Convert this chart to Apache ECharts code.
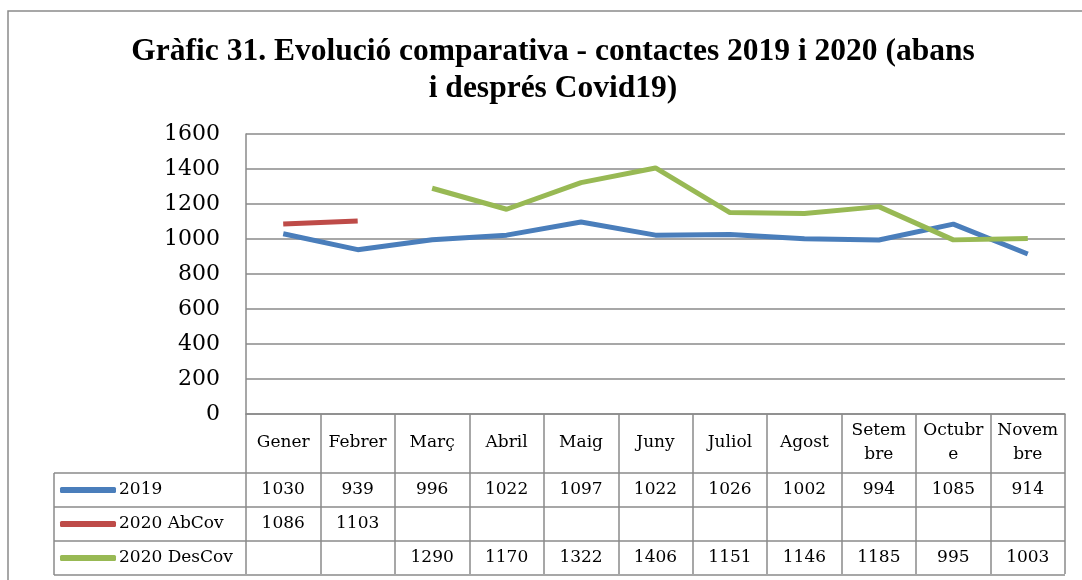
<!DOCTYPE html>
<html>
<head>
<meta charset="utf-8">
<script src="https://cdn.jsdelivr.net/npm/echarts@6/dist/echarts.min.js"></script>
<style>
html,body{margin:0;padding:0;background:#fff;}
#chart{width:1082px;height:580px;}
</style>
</head>
<body>
<div id="chart"></div>
<script>
// ---- data ----
const categories = ['Gener','Febrer','Març','Abril','Maig','Juny','Juliol','Agost','Setembre','Octubre','Novembre'];
const tickLabels = ['Gener','Febrer','Març','Abril','Maig','Juny','Juliol','Agost','Setem\nbre','Octubr\ne','Novem\nbre'];
const seriesNames = ['2019','2020 AbCov','2020 DesCov'];
const values2019 = [1030,939,996,1022,1097,1022,1026,1002,994,1085,914];
const values2020Ab = [1086,1103,null,null,null,null,null,null,null,null,null];
const values2020Des = [null,null,1290,1170,1322,1406,1151,1146,1185,995,1003];
const yTicks = [0,200,400,600,800,1000,1200,1400,1600];
const titleText = 'Gràfic 31. Evolució comparativa - contactes 2019 i 2020 (abans\ni després Covid19)';

const colors = ['#4A7EBB','#BE4B48','#98B954'];
const gridColor = '#8a8a8a';
const serif = "'DejaVu Serif', 'Liberation Serif', serif";

const chart = echarts.init(document.getElementById('chart'), null, {renderer:'canvas'});

const tableTop = 473, rowH = 34, tableLeft = 54, tableRight = 1065;

const option = {
  animation:false,
  backgroundColor:'#fff',
  title:{
    text:titleText,
    left:553,
    textAlign:'center',
    top:33,
    padding:0,
    textStyle:{fontFamily:"'Liberation Serif', serif",fontWeight:'bold',fontSize:31.5,lineHeight:37,color:'#000'}
  },
  legend:{
    orient:'vertical',
    left:60,
    top:tableTop,
    itemGap:0,
    itemWidth:56,
    itemHeight:6,
    icon:'roundRect',
    padding:0,
    data:seriesNames,
    textStyle:{fontFamily:serif,fontSize:17,color:'#000',lineHeight:rowH,padding:[0,0,0,-2]}
  },
  grid:{left:246,right:17,top:134,bottom:166,containLabel:false},
  xAxis:{
    type:'category',
    data:categories,
    boundaryGap:true,
    axisLine:{show:true,lineStyle:{color:gridColor,width:1.5}},
    axisTick:{show:true,interval:0,length:160,lineStyle:{color:gridColor,width:1.5}},
    axisLabel:{
      interval:0,
      margin:29,
      verticalAlign:'middle',
      lineHeight:24,
      fontFamily:serif,fontSize:17,color:'#000',
      formatter:function(v,i){return tickLabels[i];}
    },
    splitLine:{show:false}
  },
  yAxis:{
    type:'value',
    min:0,max:1600,interval:200,
    axisLine:{show:true,lineStyle:{color:gridColor,width:1.5}},
    axisTick:{show:false},
    axisLabel:{margin:26,fontFamily:serif,fontSize:22,color:'#000',
      formatter:function(v){return yTicks.indexOf(v)>=0?String(v):'';}},
    splitLine:{show:true,lineStyle:{color:gridColor,width:1.5}}
  },
  series:[
    {name:seriesNames[0],type:'line',data:values2019,symbol:'none',lineStyle:{width:5,color:colors[0]},itemStyle:{color:colors[0]},connectNulls:false},
    {name:seriesNames[1],type:'line',data:values2020Ab,symbol:'none',lineStyle:{width:5,color:colors[1]},itemStyle:{color:colors[1]},connectNulls:false},
    {name:seriesNames[2],type:'line',data:values2020Des,symbol:'none',lineStyle:{width:5,color:colors[2]},itemStyle:{color:colors[2]},connectNulls:false}
  ]
};
chart.setOption(option);

// Data table drawn from the arrays using the chart's own category scale
const rows = [values2019, values2020Ab, values2020Des];
const graphics = [];
graphics.push({type:'rect',shape:{x:8,y:11,width:1100,height:600},style:{fill:null,stroke:gridColor,lineWidth:1.5},z:-1});
for(let r=0;r<=rows.length;r++){
  const y = tableTop + r*rowH;
  graphics.push({type:'line',shape:{x1:tableLeft,y1:y,x2:tableRight,y2:y},style:{stroke:gridColor,lineWidth:1.5}});
}
graphics.push({type:'line',shape:{x1:tableLeft,y1:tableTop,x2:tableLeft,y2:tableTop+rows.length*rowH},style:{stroke:gridColor,lineWidth:1.5}});
rows.forEach(function(arr,r){
  arr.forEach(function(v,i){
    if(v===null) return;
    const x = chart.convertToPixel({xAxisIndex:0}, categories[i]);
    graphics.push({type:'text',x:x,y:tableTop + r*rowH + rowH/2,
      style:{text:String(v),fontFamily:serif,fontSize:17,fill:'#000',align:'center',verticalAlign:'middle'}});
  });
});
chart.setOption({graphic:graphics});
</script>
</body>
</html>
